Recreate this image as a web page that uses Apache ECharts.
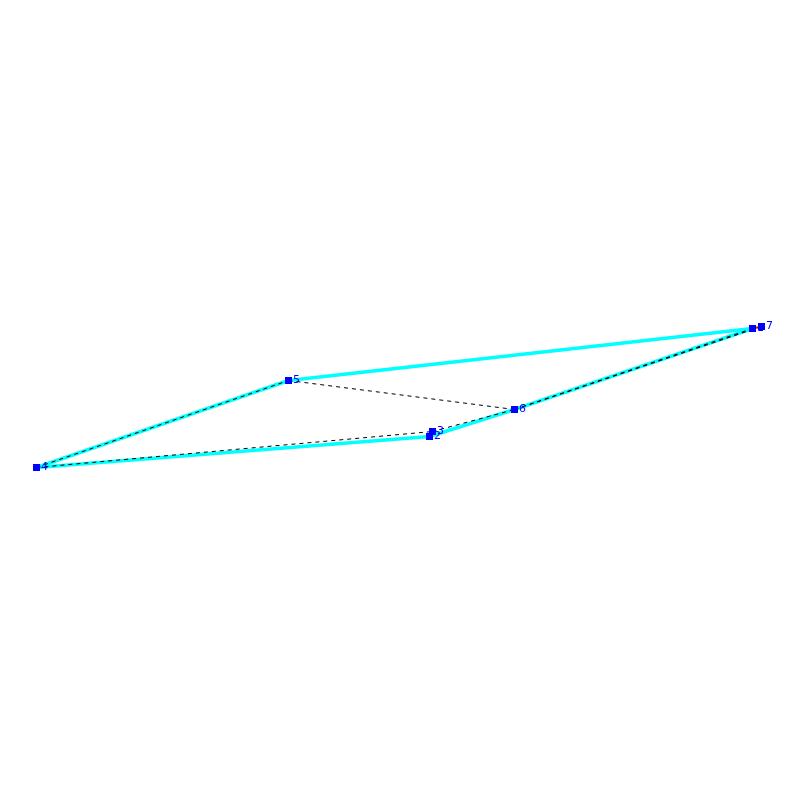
<!DOCTYPE html>
<html>
<head>
<meta charset="utf-8">
<style>
  html, body { margin: 0; padding: 0; background: #fff; }
  #main { width: 800px; height: 800px; }
</style>
<script src="https://cdn.jsdelivr.net/npm/echarts@6/dist/echarts.min.js"></script>
</head>
<body>
<div id="main"></div>
<script>
// network nodes, values (y counted from the bottom)
var nodeNames = ['1', '2', '3', '4', '5', '6', '7']
var nodeX = [752.5, 429.5, 432.5, 36.5, 288.5, 514.5, 761.5]
var nodeY = [471.5, 363.5, 368.5, 332.5, 419.5, 390.5, 473.5]

// edges, as pairs of node names
var cyanEdges = [['4', '5'], ['5', '1'], ['4', '2'], ['2', '6'], ['6', '1']]
var dashedEdges = [['4', '5'], ['5', '6'], ['4', '3'], ['3', '6'], ['6', '7'], ['6', '1']]
var redEdges = [['1', '7']]

var myChart = echarts.init(document.getElementById('main'), null, { renderer: 'canvas' })

var nodes = nodeNames.map(function(name, i) {
  return { name: name, value: [nodeX[i], nodeY[i]] }
})

function toLinks(edges, style) {
  return edges.map(function(e) {
    return { source: e[0], target: e[1], lineStyle: style }
  })
}

var links = toLinks(cyanEdges, { color: '#00ffff', width: 3.5, opacity: 1, curveness: 0 })
  .concat(toLinks(dashedEdges, { color: '#000000', width: 1, type: [4, 4], opacity: 1, curveness: 0 }))
  .concat(toLinks(redEdges, { color: '#ff0000', width: 2, opacity: 1, curveness: 0 }))

var option = {
  animation: false,
  backgroundColor: '#ffffff',
  grid: { left: 0, right: 0, top: 0, bottom: 0 },
  xAxis: { type: 'value', min: 0, max: 800, show: false },
  yAxis: { type: 'value', min: 0, max: 800, show: false },
  series: [
    {
      type: 'graph',
      coordinateSystem: 'cartesian2d',
      layout: 'none',
      symbol: 'rect',
      symbolSize: 7,
      itemStyle: { color: '#0000ff', opacity: 1 },
      label: {
        show: true,
        position: 'right',
        distance: 1,
        color: '#0000ff',
        fontSize: 11,
        fontFamily: 'DejaVu Sans',
        formatter: '{b}'
      },
      data: nodes,
      links: links
    }
  ]
}
myChart.setOption(option)
</script>
</body>
</html>
